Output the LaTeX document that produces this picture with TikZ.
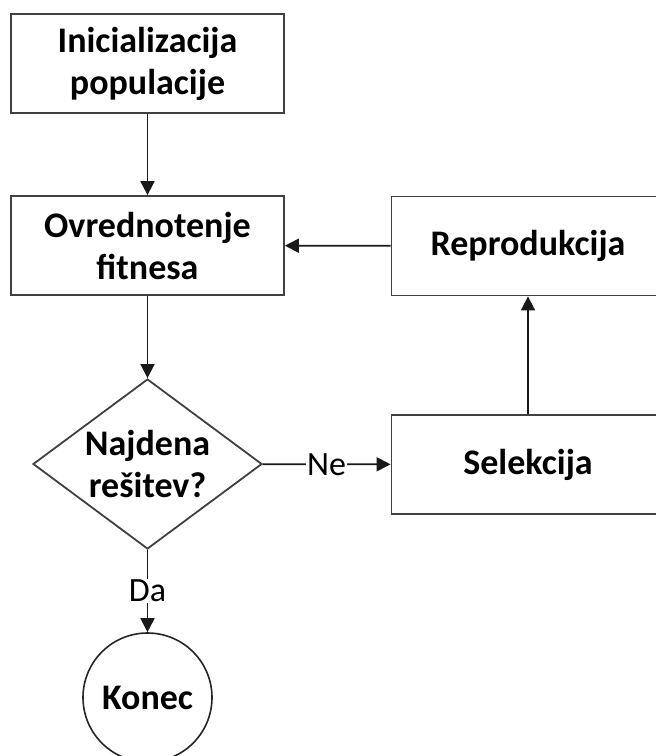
\documentclass[tikz,border=0pt]{standalone}
\usepackage{fontspec}
\setmainfont{Carlito}
\usetikzlibrary{shapes.geometric,arrows.meta}
\tikzset{
  boxnode/.style={draw=black!75, line width=1.8pt, fill=white, minimum width=273pt, minimum height=99pt, inner sep=0pt, align=center, font=\fontsize{36}{42}\selectfont\bfseries},
  decnode/.style={draw=black!75, line width=1.8pt, fill=white, diamond, minimum width=229pt, minimum height=170pt, inner sep=0pt},
  dectext/.style={inner sep=0pt, align=center, font=\fontsize{36}{42}\selectfont\bfseries},
  endnode/.style={draw=black!85, line width=1.6pt, fill=white, circle, minimum size=129pt, inner sep=0pt, align=center, font=\fontsize{36}{42}\selectfont\bfseries},
  conn/.style={draw=black!90, line width=1.8pt, -{Triangle[length=14pt,width=14pt]}},
  lbl/.style={fill=white, inner sep=1pt, font=\fontsize{34}{40}\selectfont}
}
\begin{document}
\begin{tikzpicture}[x=1pt,y=-1pt]
\useasboundingbox (0,0) rectangle (656,756);
\clip (0,0) rectangle (656,756);
\node[boxnode] (init) at (147.5,63.5) {Inicializacija\\populacije};
\node[boxnode] (eval) at (147.5,245.5) {Ovrednotenje\\fitnesa};
\node[boxnode] (repro) at (528,246) {Reprodukcija};
\node[boxnode] (sel) at (528,464.5) {Selekcija};
\node[decnode] (dec) at (147.5,464) {};
\node[dectext] (dect) at (dec.center) {Najdena\\rešitev?};
\node[endnode] (end) at (147.5,697.5) {Konec};
\draw[conn] (init) -- (eval);
\draw[conn] (eval) -- (dec);
\draw[conn] (dec) -- node[lbl] {Ne} (sel);
\draw[conn] (sel) -- (repro);
\draw[conn] (repro) -- (eval);
\draw[conn] (dec) -- node[lbl] {Da} (end);
\end{tikzpicture}
\end{document}
